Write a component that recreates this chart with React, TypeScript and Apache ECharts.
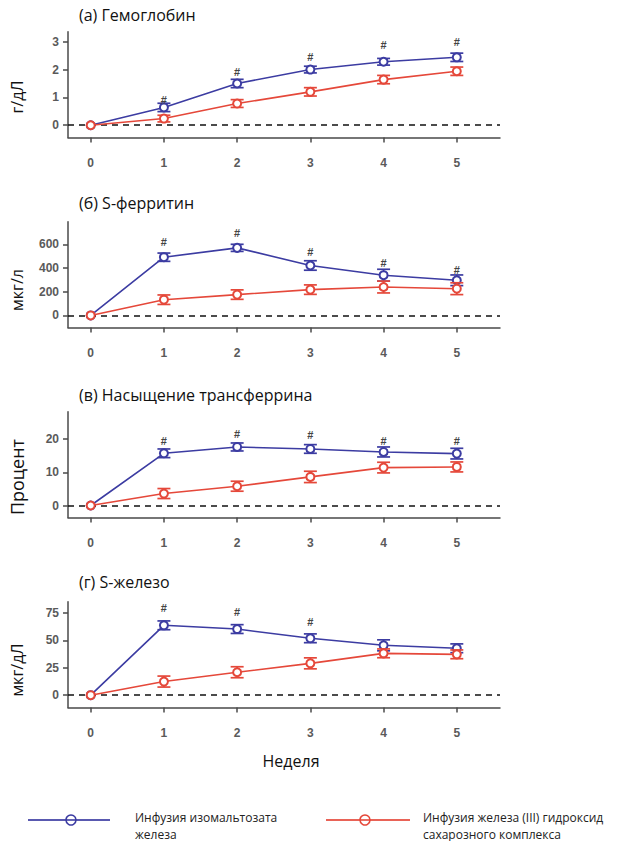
import React, { useEffect, useRef } from "react";
import * as echarts from "echarts";

const weeks = [0, 1, 2, 3, 4, 5];

const titles = ["(а) Гемоглобин", "(б) S-ферритин", "(в) Насыщение трансферрина", "(г) S-железо"];
const yNames = ["г/дЛ", "мкг/л", "Процент", "мкг/дЛ"];
const yTicks = [
  [0, 1, 2, 3],
  [0, 200, 400, 600],
  [0, 10, 20],
  [0, 25, 50, 75],
];

// Iron isomaltoside (blue) / iron sucrose (red)
const hbIso = [0, 0.64, 1.5, 2.0, 2.28, 2.44];
const hbIsoErr = [0, 0.15, 0.15, 0.12, 0.12, 0.15];
const hbSuc = [0, 0.24, 0.78, 1.2, 1.64, 1.94];
const hbSucErr = [0, 0.12, 0.14, 0.15, 0.15, 0.15];
const hbHash = [null, 0.9, 1.92, 2.46, 2.88, 3.0];

const ferIso = [0, 492, 571, 422, 340, 297];
const ferIsoErr = [0, 35, 30, 40, 50, 45];
const ferSuc = [0, 133, 176, 218, 240, 226];
const ferSucErr = [0, 40, 40, 40, 50, 50];
const ferHash = [null, 617, 693, 532, 444, 382];

const tsIso = [0, 15.7, 17.6, 17.0, 16.1, 15.6];
const tsIsoErr = [0, 1.3, 1.2, 1.3, 1.5, 1.6];
const tsSuc = [0, 3.6, 5.8, 8.6, 11.4, 11.6];
const tsSucErr = [0, 1.5, 1.5, 1.7, 1.6, 1.5];
const tsHash = [null, 19.4, 21.4, 21.2, 19.4, 19.4];

const feIso = [0, 63.6, 60.2, 51.8, 45.4, 42.7];
const feIsoErr = [0, 4, 4, 4, 5, 4];
const feSuc = [0, 12.4, 20.9, 29.0, 38.1, 37.2];
const feSucErr = [0, 5, 5, 5, 4, 4];
const feHash = [null, 79, 75.4, 66.3, null, null];

const legendLabels = [
  ["Инфузия изомальтозата", "железа"],
  ["Инфузия железа (III) гидроксид", "сахарозного комплекса"],
];

const panels = [
  { iso: hbIso, isoErr: hbIsoErr, suc: hbSuc, sucErr: hbSucErr, hash: hbHash, min: -0.44, max: 3.36 },
  { iso: ferIso, isoErr: ferIsoErr, suc: ferSuc, sucErr: ferSucErr, hash: ferHash, min: -102, max: 792 },
  { iso: tsIso, isoErr: tsIsoErr, suc: tsSuc, sucErr: tsSucErr, hash: tsHash, min: -3.6, max: 28.2 },
  { iso: feIso, isoErr: feIsoErr, suc: feSuc, sucErr: feSucErr, hash: feHash, min: -11.2, max: 85.1 },
];

const BLUE = "#3c3ca2";
const RED = "#e5483a";
const AXIS = "#4a4a4a";
const gridTops = [31.7, 221.7, 411.7, 601.7];
const gridH = 105.8;
const titleY = [17, 205, 397, 584];
const nameY = [97, 290, 477, 670];
const nameSize = [16, 16, 18, 16];

export default function App() {
  const ref = useRef<HTMLDivElement>(null);
  useEffect(() => {
    document.body.style.margin = "0";
    const chart = echarts.init(ref.current!, null, { renderer: "svg" });

    const grids: any[] = [];
    const xAxes: any[] = [];
    const yAxes: any[] = [];
    const series: any[] = [];
    const graphics: any[] = [];

    const errRender = (color: string) => (params: any, api: any) => {
      const x = api.value(0);
      const y = api.value(1);
      const e = api.value(2);
      if (!e) return null;
      const top = api.coord([x, y + e]);
      const bot = api.coord([x, y - e]);
      const hw = 6.5;
      const st = { stroke: color, lineWidth: 1.7 };
      return {
        type: "group",
        children: [
          { type: "line", shape: { x1: top[0], y1: top[1], x2: bot[0], y2: bot[1] }, style: st },
          { type: "line", shape: { x1: top[0] - hw, y1: top[1], x2: top[0] + hw, y2: top[1] }, style: st },
          { type: "line", shape: { x1: bot[0] - hw, y1: bot[1], x2: bot[0] + hw, y2: bot[1] }, style: st },
        ],
      };
    };

    panels.forEach((p, i) => {
      grids.push({ left: 68, width: 432, top: gridTops[i], height: gridH });
      xAxes.push({
        type: "value",
        gridIndex: i,
        min: -0.31,
        max: 5.59,
        axisLine: { show: true, onZero: false, lineStyle: { color: AXIS, width: 1.5 } },
        axisTick: { show: true, customValues: weeks, length: 5, lineStyle: { color: AXIS, width: 1.5 } },
        axisLabel: {
          customValues: weeks,
          margin: 19,
          color: "#5a5a5a",
          fontSize: 12,
          fontWeight: "bold",
          fontFamily: "Liberation Sans",
        },
        splitLine: { show: false },
      });
      yAxes.push({
        type: "value",
        gridIndex: i,
        min: p.min,
        max: p.max,
        axisLine: { show: true, onZero: false, lineStyle: { color: AXIS, width: 1.5 } },
        axisTick: { show: true, customValues: yTicks[i], length: 5, lineStyle: { color: AXIS, width: 1.5 } },
        axisLabel: {
          customValues: yTicks[i],
          margin: 9,
          color: "#5a5a5a",
          fontSize: 12,
          fontWeight: "bold",
          fontFamily: "Liberation Sans",
        },
        splitLine: { show: false },
      });

      series.push({
        type: "custom",
        xAxisIndex: i,
        yAxisIndex: i,
        z: 1,
        renderItem: errRender(BLUE),
        data: weeks.map((w, j) => [w, p.iso[j], p.isoErr[j]]),
        markLine: {
          silent: true,
          symbol: "none",
          label: { show: false },
          lineStyle: { color: "#111", type: [6, 5], width: 1.6 },
          data: [{ yAxis: 0 }],
        },
      });
      series.push({
        type: "line",
        xAxisIndex: i,
        yAxisIndex: i,
        z: 3,
        data: weeks.map((w, j) => [w, p.iso[j]]),
        color: BLUE,
        symbol: "emptyCircle",
        symbolSize: 8,
        lineStyle: { width: 1.6, color: BLUE },
        itemStyle: { color: BLUE, borderWidth: 1.8 },
      });
      series.push({
        type: "custom",
        xAxisIndex: i,
        yAxisIndex: i,
        z: 4,
        renderItem: errRender(RED),
        data: weeks.map((w, j) => [w, p.suc[j], p.sucErr[j]]),
      });
      series.push({
        type: "line",
        xAxisIndex: i,
        yAxisIndex: i,
        z: 5,
        data: weeks.map((w, j) => [w, p.suc[j]]),
        color: RED,
        symbol: "emptyCircle",
        symbolSize: 8,
        lineStyle: { width: 1.6, color: RED },
        itemStyle: { color: RED, borderWidth: 1.8 },
      });
      series.push({
        type: "custom",
        xAxisIndex: i,
        yAxisIndex: i,
        z: 6,
        renderItem: (params: any, api: any) => {
          const c = api.coord([api.value(0), api.value(1)]);
          return {
            type: "text",
            style: {
              text: "#",
              x: c[0],
              y: c[1],
              align: "center",
              verticalAlign: "middle",
              fill: "#444",
              font: "bold 11px 'Liberation Sans'",
            },
          };
        },
        data: weeks.map((w, j) => [w, p.hash[j]]).filter((d) => d[1] !== null),
      });

      graphics.push({
        type: "text",
        left: 79,
        top: titleY[i] - 10,
        style: { text: titles[i], font: "16px 'Open Sans'", fill: "#111" },
      });
      graphics.push({
        type: "text",
        x: 17,
        y: nameY[i],
        rotation: Math.PI / 2,
        style: {
          text: yNames[i],
          font: `${nameSize[i]}px 'Open Sans'`,
          fill: "#111",
          align: "center",
          verticalAlign: "middle",
        },
      });
    });

    graphics.push({
      type: "text",
      x: 291,
      y: 761,
      style: { text: "Неделя", font: "16px 'Open Sans'", fill: "#111", align: "center", verticalAlign: "middle" },
    });

    const legendItems = [
      { color: BLUE, x1: 28, x2: 110, cx: 71, tx: 135, labels: legendLabels[0] },
      { color: RED, x1: 326, x2: 410, cx: 365, tx: 423, labels: legendLabels[1] },
    ];
    legendItems.forEach((it) => {
      graphics.push({
        type: "line",
        shape: { x1: it.x1, y1: 820, x2: it.x2, y2: 820 },
        style: { stroke: it.color, lineWidth: 2, opacity: 0.85 },
      });
      graphics.push({
        type: "circle",
        shape: { cx: it.cx, cy: 820, r: 5 },
        style: { stroke: it.color, lineWidth: 1.6, fill: "#fff" },
      });
      graphics.push({
        type: "line",
        shape: { x1: it.cx - 5, y1: 820, x2: it.cx + 5, y2: 820 },
        style: { stroke: it.color, lineWidth: 1.6 },
      });
      it.labels.forEach((t, k) => {
        graphics.push({
          type: "text",
          x: it.tx,
          y: 817 + k * 17,
          style: { text: t, font: "12px 'Open Sans'", fill: "#222", verticalAlign: "middle" },
        });
      });
    });

    chart.setOption({
      animation: false,
      backgroundColor: "#fff",
      grid: grids,
      xAxis: xAxes,
      yAxis: yAxes,
      series,
      graphic: graphics,
    });
    return () => chart.dispose();
  }, []);
  return <div ref={ref} style={{ position: "absolute", left: 0, top: 0, width: 626, height: 841 }} />;
}
